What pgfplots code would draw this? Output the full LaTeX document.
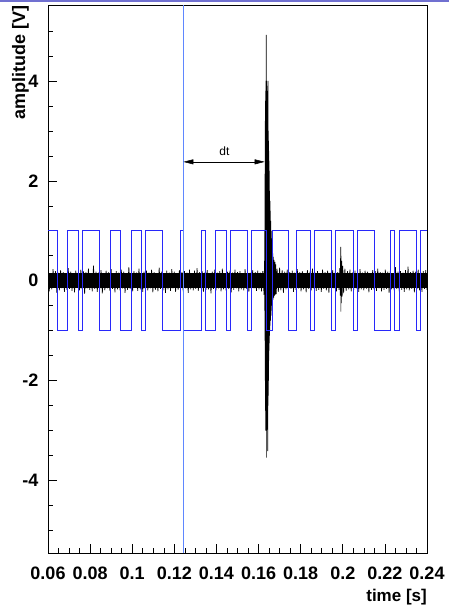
\documentclass[border=0pt]{standalone}
\usepackage{pgfplots}
\pgfplotsset{compat=1.18}
\usepackage{pgfplotstable}
\usepackage{fontspec}
\setmainfont{Liberation Sans}
\usetikzlibrary{arrows.meta}

\definecolor{wave}{RGB}{40,40,250}
\definecolor{topbar}{RGB}{112,112,208}

% square reference pulse train (level holds until the next time)
\pgfplotstableread{
t v
0.06000 1
0.06443 -1
0.06919 1
0.07443 -1
0.07643 1
0.08452 -1
0.08938 1
0.09438 -1
0.09938 1
0.10429 -1
0.10643 1
0.11443 -1
0.12276 1
0.12443 -1
0.13271 1
0.13462 -1
0.13952 1
0.14462 -1
0.14652 1
0.15462 -1
0.15652 1
0.16367 -1
0.16667 1
0.17429 -1
0.17810 1
0.18476 -1
0.18643 1
0.19462 -1
0.19652 1
0.20490 -1
0.20681 1
0.21476 -1
0.22271 1
0.22443 -1
0.22667 1
0.23510 -1
0.23700 1
0.24000 1
}\pulses

% recorded sensor signal
\pgfplotstableread{
t v
0.0600 0.18
0.0606 -0.21
0.0612 0.15
0.0618 -0.17
0.0624 0.23
0.0630 -0.14
0.0636 0.19
0.0642 -0.24
0.0648 0.16
0.0654 -0.19
0.0660 0.21
0.0666 -0.15
0.0672 0.17
0.0678 -0.22
0.0684 0.14
0.0690 -0.18
0.0696 0.25
0.0702 -0.16
0.0708 0.18
0.0714 -0.20
0.0720 0.15
0.0726 -0.23
0.0732 0.20
0.0738 -0.14
0.0744 0.16
0.0750 -0.19
0.0756 0.22
0.0762 -0.17
0.0768 0.19
0.0774 -0.26
0.0780 0.17
0.0786 -0.15
0.0792 0.24
0.0798 -0.18
0.0804 0.15
0.0810 -0.21
0.0816 0.30
0.0822 -0.16
0.0828 0.18
0.0834 -0.22
0.0840 0.16
0.0846 -0.17
0.0852 0.21
0.0858 -0.25
0.0864 0.14
0.0870 -0.19
0.0876 0.20
0.0882 -0.15
0.0888 0.17
0.0894 -0.20
0.0900 0.23
0.0906 -0.16
0.0912 0.15
0.0918 -0.23
0.0924 0.19
0.0930 -0.17
0.0936 0.16
0.0942 -0.19
0.0948 0.22
0.0954 -0.15
0.0960 0.18
0.0966 -0.24
0.0972 0.15
0.0978 -0.18
0.0984 0.27
0.0990 -0.16
0.0996 0.17
0.1002 -0.21
0.1008 0.19
0.1014 -0.14
0.1020 0.16
0.1026 -0.20
0.1032 0.24
0.1038 -0.17
0.1044 0.15
0.1050 -0.22
0.1056 0.18
0.1062 -0.16
0.1068 0.20
0.1074 -0.19
0.1080 0.16
0.1086 -0.15
0.1092 0.22
0.1098 -0.23
0.1104 0.17
0.1110 -0.18
0.1116 0.15
0.1122 -0.21
0.1128 0.26
0.1134 -0.16
0.1140 0.18
0.1146 -0.19
0.1152 0.14
0.1158 -0.24
0.1164 0.20
0.1170 -0.17
0.1176 0.16
0.1182 -0.20
0.1188 0.23
0.1194 -0.15
0.1200 0.18
0.1206 -0.22
0.1212 0.15
0.1218 -0.18
0.1224 0.21
0.1230 -0.16
0.1236 0.17
0.1242 -0.21
0.1248 0.19
0.1254 -0.15
0.1260 0.16
0.1266 -0.24
0.1272 0.22
0.1278 -0.17
0.1284 0.15
0.1290 -0.19
0.1296 0.20
0.1302 -0.16
0.1308 0.25
0.1314 -0.20
0.1320 0.17
0.1326 -0.15
0.1332 0.19
0.1338 -0.22
0.1344 0.16
0.1350 -0.18
0.1356 0.21
0.1362 -0.17
0.1368 0.15
0.1374 -0.25
0.1380 0.18
0.1386 -0.16
0.1392 0.22
0.1398 -0.19
0.1404 0.16
0.1410 -0.15
0.1416 0.19
0.1422 -0.21
0.1428 0.24
0.1434 -0.17
0.1440 0.15
0.1446 -0.20
0.1452 0.18
0.1458 -0.16
0.1464 0.20
0.1470 -0.23
0.1476 0.16
0.1482 -0.18
0.1488 0.22
0.1494 -0.15
0.1500 0.17
0.1506 -0.21
0.1512 0.19
0.1518 -0.17
0.1524 0.15
0.1530 -0.19
0.1536 0.23
0.1542 -0.16
0.1548 0.18
0.1554 -0.22
0.1560 0.16
0.1566 -0.18
0.1572 0.21
0.1578 -0.15
0.1584 0.17
0.1590 -0.20
0.1596 0.20
0.1602 -0.17
0.1608 0.16
0.1614 -0.21
0.1620 0.19
0.1626 -0.28
0.1628 0.40
0.1629 -0.60
0.1630 1.50
0.16305 -1.20
0.1631 2.50
0.16315 -2.00
0.1632 3.20
0.16325 -2.60
0.1633 3.60
0.16335 -2.90
0.1634 3.80
0.16345 -3.00
0.1635 4.00
0.16355 -3.00
0.1636 4.02
0.16365 4.92
0.1637 -3.54
0.16375 4.00
0.1638 -3.00
0.16385 3.95
0.1639 -2.98
0.16395 3.90
0.1640 -2.95
0.16405 3.80
0.1641 -2.90
0.16415 3.60
0.1642 -2.80
0.16425 3.40
0.1643 -2.70
0.16435 3.30
0.1644 -3.41
0.16445 4.00
0.1645 -2.50
0.16455 3.20
0.1646 -2.30
0.16465 3.00
0.1647 -2.00
0.16475 2.80
0.1648 -1.80
0.16485 2.60
0.1649 -1.60
0.16495 2.40
0.1650 -1.40
0.16505 2.20
0.1651 -1.25
0.16515 2.00
0.1652 -1.10
0.16525 1.80
0.1653 -1.00
0.1654 1.60
0.1655 -0.90
0.1656 1.40
0.1657 -0.80
0.1658 1.20
0.1659 -0.70
0.1660 1.00
0.1661 -0.60
0.1662 0.85
0.1663 -0.50
0.1664 0.75
0.1665 -0.45
0.1666 0.65
0.1667 -0.40
0.1668 0.55
0.1669 -0.38
0.1670 0.48
0.1672 -0.34
0.1674 0.42
0.1676 -0.30
0.1678 0.38
0.1680 -0.28
0.1682 0.33
0.1684 -0.27
0.1688 0.24
0.1694 -0.22
0.1700 0.26
0.1706 -0.19
0.1712 0.21
0.1718 -0.24
0.1724 0.18
0.1730 -0.17
0.1736 0.22
0.1742 -0.20
0.1748 0.17
0.1754 -0.16
0.1760 0.20
0.1766 -0.22
0.1772 0.16
0.1778 -0.18
0.1784 0.23
0.1790 -0.15
0.1796 0.17
0.1802 -0.21
0.1808 0.19
0.1814 -0.17
0.1820 0.15
0.1826 -0.23
0.1832 0.21
0.1838 -0.16
0.1844 0.18
0.1850 -0.19
0.1856 0.24
0.1862 -0.15
0.1868 0.16
0.1874 -0.20
0.1880 0.19
0.1886 -0.18
0.1892 0.15
0.1898 -0.22
0.1904 0.22
0.1910 -0.16
0.1916 0.17
0.1922 -0.19
0.1928 0.20
0.1934 -0.24
0.1940 0.16
0.1946 -0.17
0.1952 0.21
0.1958 -0.15
0.1964 0.18
0.1970 -0.21
0.1976 0.17
0.1982 -0.18
0.1986 0.25
0.1988 -0.30
0.1990 0.68
0.1991 -0.62
0.1992 0.50
0.1993 -0.45
0.1995 0.40
0.1997 -0.32
0.2000 0.30
0.2004 -0.25
0.2010 0.24
0.2016 -0.20
0.2022 0.19
0.2028 -0.17
0.2034 0.22
0.2040 -0.21
0.2046 0.16
0.2052 -0.18
0.2058 0.20
0.2064 -0.15
0.2070 0.17
0.2076 -0.22
0.2082 0.23
0.2088 -0.17
0.2094 0.16
0.2100 -0.19
0.2106 0.20
0.2112 -0.16
0.2118 0.18
0.2124 -0.23
0.2130 0.15
0.2136 -0.18
0.2142 0.21
0.2148 -0.17
0.2154 0.19
0.2160 -0.20
0.2166 0.24
0.2172 -0.15
0.2178 0.17
0.2184 -0.21
0.2190 0.16
0.2196 -0.18
0.2202 0.22
0.2208 -0.16
0.2214 0.18
0.2220 -0.24
0.2226 0.20
0.2232 -0.17
0.2238 0.15
0.2244 -0.19
0.2250 0.27
0.2256 -0.16
0.2262 0.18
0.2268 -0.21
0.2274 0.19
0.2280 -0.18
0.2286 0.16
0.2292 -0.22
0.2298 0.21
0.2304 -0.17
0.2310 0.28
0.2316 -0.19
0.2322 0.17
0.2328 -0.16
0.2334 0.20
0.2340 -0.23
0.2346 0.18
0.2352 -0.17
0.2358 0.22
0.2364 -0.19
0.2370 0.17
0.2376 -0.22
0.2382 0.19
0.2388 -0.16
0.2394 0.21
0.2400 -0.18
}\signal

\begin{document}
\begin{tikzpicture}
\useasboundingbox (-48pt,-57pt) rectangle (401pt,553pt);
\fill[topbar] (-48pt,551pt) rectangle (401pt,553pt);
\begin{axis}[
  at={(0,0)}, anchor=south west,
  scale only axis, width=379pt, height=548pt,
  xmin=0.06, xmax=0.24, ymin=-5.45, ymax=5.52,
  axis line style={black, line width=0.8pt},
  tick pos=left, tick align=inside,
  major tick length=9pt, minor tick length=5pt,
  every tick/.style={black, line width=0.6pt},
  xtick={0.06,0.08,...,0.241},
  xticklabels={0.06,0.08,0.1,0.12,0.14,0.16,0.18,0.2,0.22,0.24},
  minor xtick={0.065,0.07,...,0.2351},
  ytick={-4,-2,0,2,4},
  yticklabels={-4,-2,0,2,4},
  minor ytick={-5,-4.5,...,5.01},
  ticklabel style={font=\fontsize{18}{21}\selectfont\bfseries},
  xticklabel style={yshift=-10pt},
  yticklabel style={xshift=-6pt},
  clip=true,
]
  % noise core of the recorded signal
  \addplot[fill=black, draw=none] coordinates {(0.06,0.15) (0.24,0.15) (0.24,-0.15) (0.06,-0.15)} -- cycle;
  \addplot[black, line width=0.65pt] table[x=t, y=v] {\signal};
  \addplot[wave, line width=0.7pt, const plot] table[x=t, y=v] {\pulses};
  % trigger time marker
  \addplot[color={rgb,255:red,95;green,135;blue,255}, line width=1.2pt, mark=none] coordinates {(0.1243,-5.45) (0.1243,5.52)};
  \draw[{Triangle[length=10pt,width=5pt]}-{Triangle[length=10pt,width=5pt]}, line width=0.5pt]
     (axis cs:0.1243,2.38) -- (axis cs:0.1629,2.38);
  \node[font=\fontsize{12}{14}\selectfont] at (axis cs:0.1438,2.6) {dt};
\end{axis}
\node[rotate=90, anchor=north east, inner sep=0pt, font=\fontsize{18}{21}\selectfont\bfseries]
  at (-36pt,548pt) {amplitude [V]};
\node[anchor=north east, inner sep=0pt, font=\fontsize{17}{20}\selectfont\bfseries]
  at (379pt,-36pt) {time [s]};
\end{tikzpicture}
\end{document}
